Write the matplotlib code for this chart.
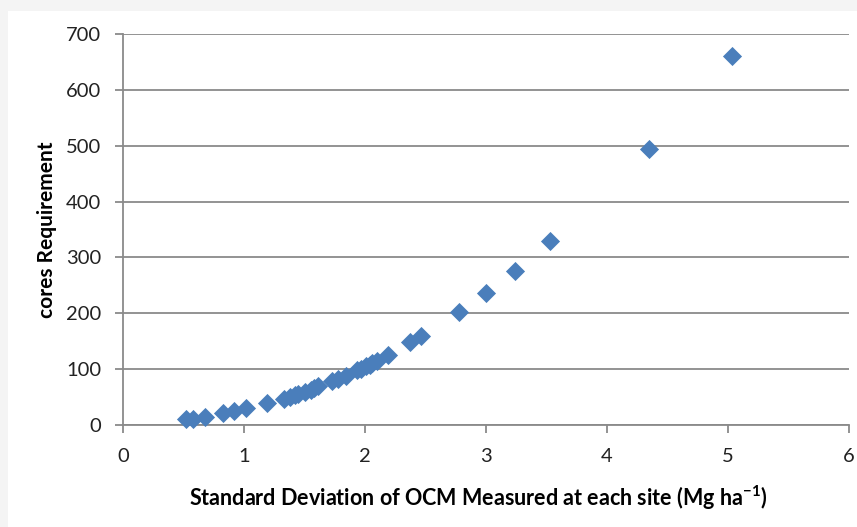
import matplotlib.pyplot as plt

plt.rcParams['mathtext.fontset'] = 'custom'
plt.rcParams['mathtext.bf'] = 'Lato:bold'
plt.rcParams['mathtext.rm'] = 'Lato'

# standard deviation of OCM per site vs number of cores needed
sd_ocm = [0.52, 0.58, 0.68, 0.83, 0.92, 1.02, 1.19, 1.33, 1.38, 1.42, 1.45,
          1.50, 1.55, 1.58, 1.61, 1.73, 1.78, 1.84, 1.93, 1.97, 2.01, 2.04,
          2.06, 2.10, 2.19, 2.37, 2.46, 2.78, 3.00, 3.24, 3.53, 4.35, 5.03]
cores = [10, 11, 15, 21, 25, 30, 40, 47, 50, 53, 55,
         59, 63, 66, 69, 79, 83, 87, 98, 101, 105, 108,
         111, 115, 126, 148, 160, 203, 237, 276, 329, 494, 661]

x_ticks = [0, 1, 2, 3, 4, 5, 6]
y_ticks = [0, 100, 200, 300, 400, 500, 600, 700]

grid_col = '#8a8a8a'

fig = plt.figure(figsize=(8.57, 5.27), dpi=100)
fig.patch.set_facecolor('#f4f4f4')
# white panel behind the chart
fig.patches.append(plt.Rectangle((8/857, 0), 1, 1 - 11/527, transform=fig.transFigure,
                                 facecolor='white', edgecolor='none', zorder=-10))

ax = fig.add_axes([123/857, 102/527, 726/857, 391/527])
ax.set_facecolor('white')

ax.scatter(sd_ocm, cores, marker='D', s=95, color='#4a7ebb', zorder=3, clip_on=False,
           linewidths=0)

ax.set_xlim(0, 6)
ax.set_ylim(0, 700)
ax.set_xticks(x_ticks)
ax.set_yticks(y_ticks)
ax.yaxis.grid(True, color=grid_col, lw=1.3)
ax.set_axisbelow(True)

for s in ['top', 'right']:
    ax.spines[s].set_visible(False)
for s in ['left', 'bottom']:
    ax.spines[s].set_color(grid_col)
    ax.spines[s].set_linewidth(1.3)

ax.tick_params(direction='out', length=5.8, width=1.3, color=grid_col,
               labelsize=14.5, labelcolor='#222222')
ax.tick_params(axis='x', pad=11)
ax.tick_params(axis='y', pad=10)
for lab in ax.get_xticklabels() + ax.get_yticklabels():
    lab.set_family('Lato')

ax.set_xlabel(r'Standard Deviation of OCM Measured at each site (Mg ha$^{\mathbf{-1}}$)',
              fontsize=15.5, fontweight='bold', family='Lato')
ax.xaxis.set_label_coords(0.49, -0.15)
ax.set_ylabel('cores Requirement', fontsize=15, fontweight='bold', family='Lato',
              labelpad=6)

fig.savefig('out.png', dpi=100, facecolor=fig.get_facecolor())
